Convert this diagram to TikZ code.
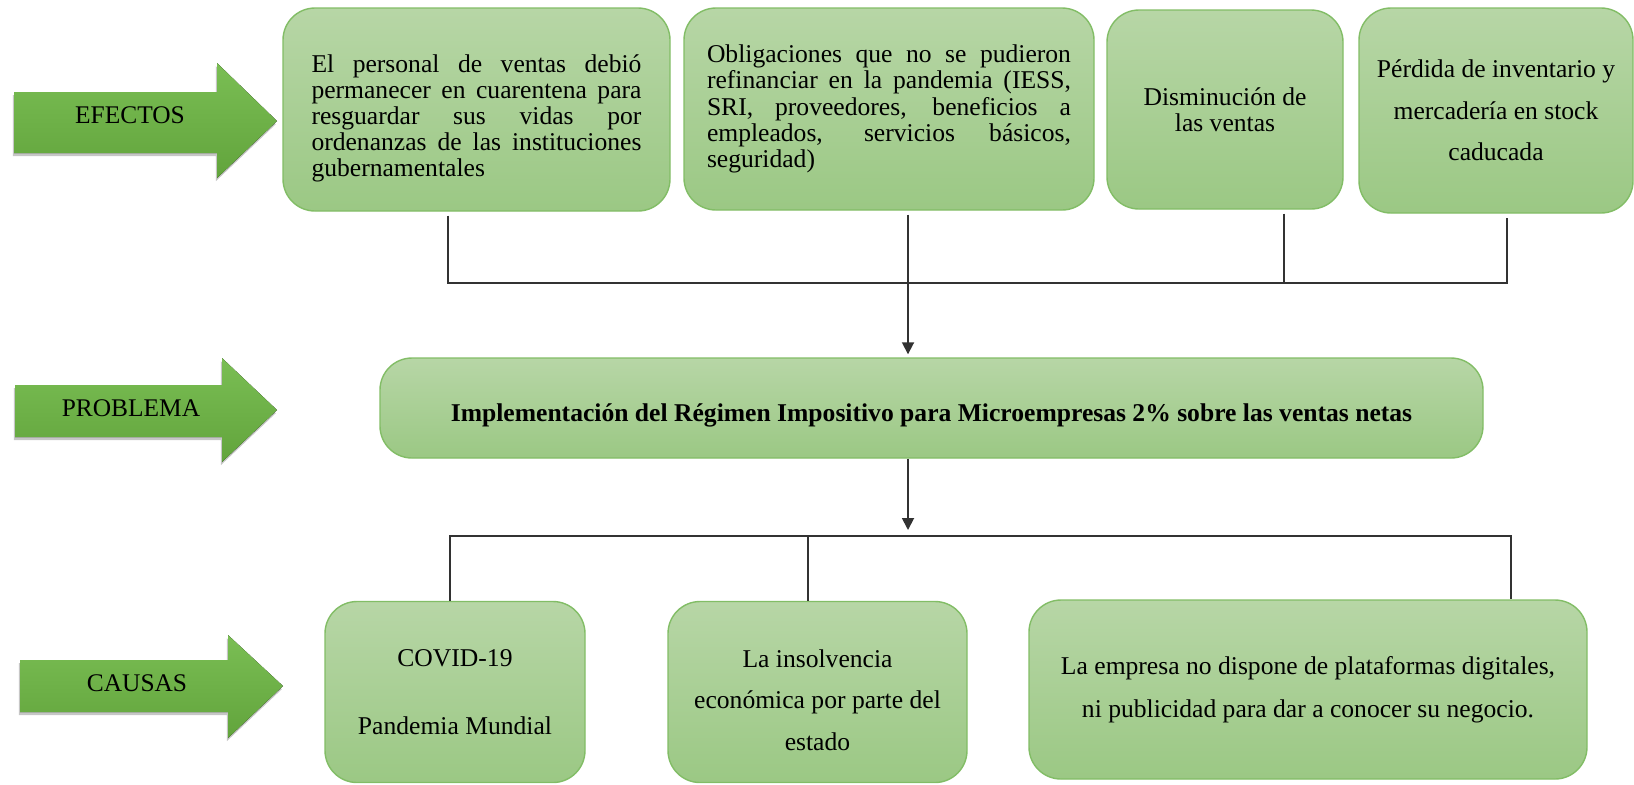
\documentclass[tikz,border=0pt]{standalone}
\usepackage{fontspec}
\setmainfont{Liberation Serif}
\usetikzlibrary{arrows.meta,shadows}

\definecolor{boxtop}{RGB}{183,214,166}
\definecolor{boxbot}{RGB}{155,200,132}
\definecolor{boxline}{RGB}{130,189,102}
\definecolor{tagtop}{RGB}{122,190,84}
\definecolor{tagbot}{RGB}{98,164,60}
\definecolor{linkgray}{RGB}{50,50,50}

\tikzset{
  box/.style={draw=boxline, line width=0.7pt, rounded corners=16pt,
    top color=boxtop, bottom color=boxbot, inner sep=0pt,
    font=\fontsize{12.8}{13.1}\selectfont},
  tag/.style={top color=tagtop, bottom color=tagbot,
    drop shadow={shadow xshift=-0.6pt, shadow yshift=-1.6pt, opacity=.45}},
  taglabel/.style={font=\fontsize{12.7}{14}\selectfont, inner sep=0pt},
  link/.style={draw=linkgray, line width=0.9pt},
  linkarrow/.style={link, -{Triangle[width=6pt,length=6pt]}}
}

\begin{document}
\begin{tikzpicture}[x=0.5pt, y=-0.5pt]
    \useasboundingbox (0,0) rectangle (1634,784);

    % arrows on the left
    \fill[tag] (14,92) -- (217,92) -- (217,63) -- (277,121) -- (217,178) -- (217,153) -- (14,153) -- cycle;
    \node[taglabel] (efectos) at (130,115) {EFECTOS};
    \fill[tag] (15,385) -- (222,385) -- (222,358) -- (277,410) -- (222,462) -- (222,437) -- (15,437) -- cycle;
    \node[taglabel] (problema) at (131,408) {PROBLEMA};
    \fill[tag] (20,660) -- (228,660) -- (228,635) -- (283,686) -- (228,738) -- (228,712) -- (20,712) -- cycle;
    \node[taglabel] (causas) at (137,683) {CAUSAS};

    % efectos
    \node[box, minimum width=193.5pt, minimum height=101.5pt, text width=165pt, align=justify] (e1) at (476.5,109.5)
    {\rule{0pt}{17.8pt}El personal de ventas debió\linebreak permanecer en cuarentena para\linebreak resguardar sus vidas por\linebreak ordenanzas de las instituciones\linebreak gubernamentales};
    \node[box, minimum width=205pt, minimum height=101pt, text width=182pt, align=justify] (e2) at (889,109)
    {Obligaciones que no se pudieron\linebreak refinanciar en la pandemia (IESS,\linebreak SRI, proveedores, beneficios a\linebreak empleados, servicios básicos,\linebreak seguridad)};
    \node[box, minimum width=118pt, minimum height=99.5pt, align=center] (e3) at (1225,109.5)
    {Disminución de\\las ventas};
    \node[box, minimum width=137pt, minimum height=102.5pt, align=center,
      font=\fontsize{12.8}{20.8}\selectfont] (e4) at (1496,110.5)
    {Pérdida de inventario y\\mercadería en stock\\caducada};

    % problema
    \node[box, minimum width=551.5pt, minimum height=50pt,
      font=\fontsize{12.8}{13.1}\selectfont\bfseries] (prob) at (931.5,408)
    {\rule{0pt}{16pt}Implementación del Régimen Impositivo para Microempresas 2\% sobre las ventas netas};

    % causas
    \node[box, minimum width=130pt, minimum height=90.5pt, align=center,
      font=\fontsize{12.8}{34}\selectfont] (c1) at (455,692)
    {COVID-19\\Pandemia Mundial};
    \node[box, minimum width=149.5pt, minimum height=90.5pt, align=center,
      font=\fontsize{12.8}{20.8}\selectfont] (c2) at (817.5,692)
    {\rule{0pt}{17pt}La insolvencia\\económica por parte del\\estado};
    \node[box, minimum width=279pt, minimum height=89.5pt, align=center,
      font=\fontsize{12.8}{21.5}\selectfont] (c3) at (1308,689.5)
    {La empresa no dispone de plataformas digitales,\\ni publicidad para dar a conocer su negocio.};

    % connectors
    \coordinate (j1) at (448,283);
    \coordinate (j2) at (908,283);
    \coordinate (j3) at (1284,283);
    \coordinate (j4) at (1507,283);
    \coordinate (k0) at (908,530);
    \coordinate (k1) at (450,536);
    \coordinate (k2) at (808,536);
    \coordinate (k3) at (1511,536);

    \draw[link] ([yshift=-2pt]e1.south -| j1) -- (j1) -- (j4) -- ([yshift=-2pt]e4.south -| j4);
    \draw[link] ([yshift=-2pt]e2.south -| j2) -- (j2);
    \draw[link] ([yshift=-2pt]e3.south -| j3) -- (j3);
    \draw[linkarrow] (j2) -- ([yshift=1.5pt]prob.north -| j2);
    \draw[linkarrow] (prob.south -| k0) -- (k0);
    \draw[link] (c1.north -| k1) -- (k1) -- (k3) -- (c3.north -| k3);
    \draw[link] (k2) -- (c2.north -| k2);
\end{tikzpicture}
\end{document}
